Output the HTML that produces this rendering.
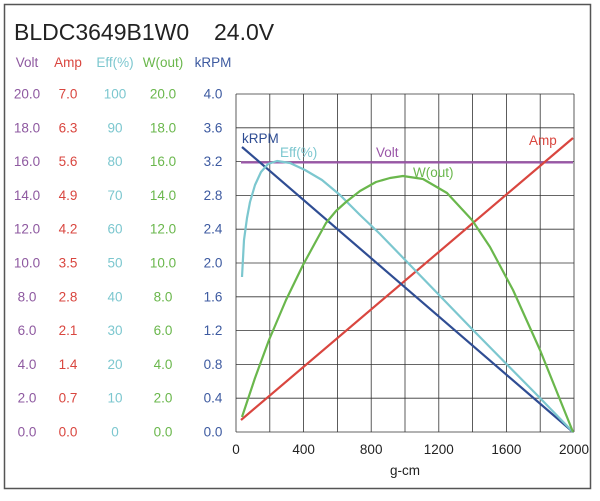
<!DOCTYPE html>
<html><head><meta charset="utf-8"><style>
body{margin:0;background:#fff;width:600px;height:496px;overflow:hidden;font-family:"Liberation Sans",sans-serif}
</style></head><body>
<svg width="600" height="496" xmlns="http://www.w3.org/2000/svg" font-family="Liberation Sans, sans-serif">
<rect x="4.5" y="4.5" width="586" height="484" fill="#fff" stroke="#555" stroke-width="1.5"/>
<text x="14" y="40" font-size="23" fill="#222">BLDC3649B1W0</text>
<text x="214" y="40" font-size="23" fill="#222">24.0V</text>
<g font-size="13.5">
<text x="27" y="67" text-anchor="middle" fill="#8e59a0">Volt</text>
<text x="68" y="67" text-anchor="middle" fill="#d9463f">Amp</text>
<text x="115" y="67" text-anchor="middle" fill="#7cc7cf">Eff(%)</text>
<text x="163" y="67" text-anchor="middle" fill="#6ab74c">W(out)</text>
<text x="213" y="67" text-anchor="middle" fill="#3d5aa0">kRPM</text>
</g>
<g id="grid" stroke="#333" stroke-width="0.8" fill="none"></g>
<g id="labels" font-size="13.5"></g>
<g font-size="13.5" fill="#222" text-anchor="middle">
<text x="236" y="454">0</text><text x="303.6" y="454">400</text><text x="371.2" y="454">800</text>
<text x="438.8" y="454">1200</text><text x="506.4" y="454">1600</text><text x="574" y="454">2000</text>
<text x="405" y="475">g-cm</text>
</g>
<line x1="241" y1="162.4" x2="573" y2="162.4" stroke="#9a56a8" stroke-width="2.2"/>
<line x1="241" y1="420" x2="573" y2="138" stroke="#d9463f" stroke-width="2.2"/>
<line x1="242" y1="147" x2="573" y2="432" stroke="#2f4d93" stroke-width="2.2"/>
<polyline fill="none" stroke="#7cc7cf" stroke-width="2.2" stroke-linejoin="round" points="242,277 244,240 247,218 250,202 255,185 261,172 268,164 277,161 290,163 305,170 322,180 340,195 360,215 380,234 473,330 540,398 573,432"/>
<polyline fill="none" stroke="#6ab74c" stroke-width="2.2" stroke-linejoin="round" points="242,417 255,378 269,340 286,300 303,265 315,243 326,223 336,211 346,202 360,191 376,182 390,178 403,176 423,179 447,193 472,220 490,247 513,290 540,350 573,432"/>
<g font-size="13.5">
<text x="242" y="143" fill="#2f4d93">kRPM</text>
<text x="280" y="157" fill="#7cc7cf">Eff(%)</text>
<text x="376" y="157" fill="#9a56a8">Volt</text>
<text x="413" y="177" fill="#6ab74c">W(out)</text>
<text x="529" y="145" fill="#d9463f">Amp</text>
</g>
<script>
var g=document.getElementById('grid'),L=document.getElementById('labels'),ns='http://www.w3.org/2000/svg';
var x0=236,x1=574,y0=94,y1=432,s=(y1-y0)/10;
for(var i=0;i<=10;i++){
 var l=document.createElementNS(ns,'line');l.setAttribute('x1',x0);l.setAttribute('x2',x1);l.setAttribute('y1',y0+i*s);l.setAttribute('y2',y0+i*s);g.appendChild(l);
 l=document.createElementNS(ns,'line');l.setAttribute('y1',y0);l.setAttribute('y2',y1);l.setAttribute('x1',x0+i*s);l.setAttribute('x2',x0+i*s);g.appendChild(l);
}
var cols=[[27,'#8e59a0',function(k){return (2*k).toFixed(1)}],[68,'#d9463f',function(k){return (0.7*k).toFixed(1)}],[115,'#7cc7cf',function(k){return ''+10*k}],[163,'#6ab74c',function(k){return (2*k).toFixed(1)}],[213,'#3d5aa0',function(k){return (0.4*k).toFixed(1)}]];
for(var k=0;k<=10;k++){var y=y1-k*s+4.5;cols.forEach(function(c){var t=document.createElementNS(ns,'text');t.setAttribute('x',c[0]);t.setAttribute('y',y);t.setAttribute('text-anchor','middle');t.setAttribute('fill',c[1]);t.textContent=c[2](k);L.appendChild(t);});}
</script>
</svg>
</body></html>
